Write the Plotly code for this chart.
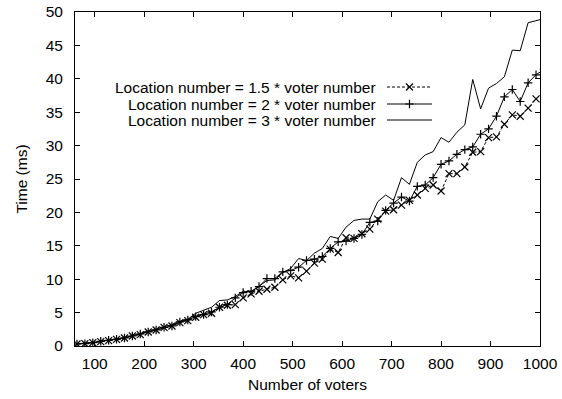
import plotly.graph_objects as go

# ---- data ----
voters = [64, 80, 96, 112, 128, 144, 160, 176, 192, 208, 224, 240, 256, 272, 288, 304,
          320, 336, 352, 368, 384, 400, 416, 432, 448, 464, 480, 496, 512, 528, 544, 560,
          576, 592, 608, 624, 640, 656, 672, 688, 704, 720, 736, 752, 768, 784, 800, 816,
          832, 848, 864, 880, 896, 912, 928, 944, 960, 976, 992, 1008]

time_15 = [0.3, 0.35, 0.5, 0.65, 0.8, 1.0, 1.2, 1.5, 1.7, 2.1, 2.4, 2.8, 3.0, 3.5, 3.8, 4.3,
           4.7, 4.9, 5.8, 6.1, 6.2, 7.2, 7.8, 8.2, 8.5, 8.8, 9.9, 10.5, 10.2, 11.2, 12.4, 13.0,
           14.5, 14.0, 16.2, 16.1, 16.8, 17.5, 19.0, 20.2, 20.4, 21.1, 21.8, 22.6, 23.6, 24.1,
           23.2, 25.8, 25.8, 26.8, 29.0, 29.1, 31.2, 31.3, 33.2, 34.6, 34.4, 35.6, 37.0, 37.9]

time_2 = [0.3, 0.35, 0.5, 0.7, 0.85, 1.0, 1.2, 1.5, 1.8, 2.1, 2.4, 2.8, 3.0, 3.6, 3.9, 4.4,
          4.7, 5.1, 5.8, 6.2, 7.2, 8.0, 8.2, 8.9, 10.1, 10.1, 11.1, 11.3, 11.8, 12.8, 13.0, 13.4,
          14.6, 15.6, 15.7, 16.1, 16.7, 18.5, 18.7, 20.3, 21.4, 22.3, 21.7, 23.9, 24.1, 25.2,
          27.2, 27.7, 28.7, 29.4, 29.8, 31.7, 32.5, 34.4, 37.3, 38.4, 36.6, 39.4, 40.6, 41.4]

time_3 = [0.35, 0.4, 0.5, 0.7, 0.85, 1.05, 1.25, 1.55, 1.85, 2.15, 2.5, 2.9, 3.2, 3.7, 4.0, 4.9,
          5.4, 5.8, 6.8, 6.9, 7.4, 8.2, 8.1, 9.0, 9.8, 9.9, 11.0, 11.6, 13.1, 12.8, 13.9, 14.6,
          16.4, 16.1, 17.8, 18.8, 19.0, 19.0, 21.6, 22.6, 21.8, 25.2, 24.2, 27.5, 28.6, 29.1,
          31.2, 30.5, 32.0, 33.1, 39.9, 35.5, 38.6, 39.3, 40.3, 44.3, 44.2, 48.4, 48.7, 49.0]

series_names = ["Location number = 1.5 * voter number",
                "Location number = 2 * voter number",
                "Location number = 3 * voter number"]

x_ticks = [100, 200, 300, 400, 500, 600, 700, 800, 900, 1000]
y_ticks = [0, 5, 10, 15, 20, 25, 30, 35, 40, 45, 50]

FONT = "Liberation Sans, Arial, sans-serif"
FS = 15.5
W, H = 562, 399
L, R, T, B = 75, 540, 12, 346

fig = go.Figure()

fig.add_trace(go.Scatter(x=voters, y=time_15, mode="lines+markers",
                         line=dict(color="black", width=1, dash="3px,2px"),
                         marker=dict(symbol="x-thin", size=7, line=dict(color="black", width=1.2)),
                         showlegend=False))
fig.add_trace(go.Scatter(x=voters, y=time_2, mode="lines+markers",
                         line=dict(color="black", width=1),
                         marker=dict(symbol="cross-thin", size=6, line=dict(color="black", width=1.2)),
                         showlegend=False))
fig.add_trace(go.Scatter(x=voters, y=time_3, mode="lines",
                         line=dict(color="black", width=1),
                         showlegend=False))

# ---- gnuplot-style key (samples drawn on a hidden pixel-scaled overlay axis) ----
key_text_right = 378
key_x0, key_x1 = 387, 432
key_rows = [87, 104, 120]
styles = [
    dict(line=dict(color="black", width=1, dash="3px,2px"), marker=dict(symbol="x-thin", size=7, line=dict(color="black", width=1.2))),
    dict(line=dict(color="black", width=1), marker=dict(symbol="cross-thin", size=6, line=dict(color="black", width=1.2))),
    dict(line=dict(color="black", width=1)),
]
for i, (name, yrow, st) in enumerate(zip(series_names, key_rows, styles)):
    fig.add_trace(go.Scatter(x=[key_x0, key_x1], y=[yrow, yrow], mode="lines",
                             line=st["line"], xaxis="x2", yaxis="y2", showlegend=False,
                             hoverinfo="skip"))
    if "marker" in st:
        fig.add_trace(go.Scatter(x=[(key_x0 + key_x1) / 2], y=[yrow], mode="markers",
                                 marker=st["marker"], xaxis="x2", yaxis="y2",
                                 showlegend=False, hoverinfo="skip"))
    fig.add_annotation(x=key_text_right, y=yrow, xref="x2", yref="y2", text=name,
                       showarrow=False, xanchor="right", yanchor="middle",
                       font=dict(family=FONT, size=FS, color="black"))

axis_common = dict(showgrid=False, zeroline=False, showline=True, linecolor="black",
                   linewidth=1, mirror="ticks", ticks="inside", ticklen=5, tickwidth=1,
                   tickcolor="black", automargin=False,
                   tickfont=dict(family=FONT, size=FS, color="black"))

fig.update_layout(
    width=W, height=H,
    margin=dict(l=L, r=W - R, t=T, b=H - B),
    paper_bgcolor="white", plot_bgcolor="white",
    xaxis=dict(range=[60, 1000], tickvals=x_ticks, ticktext=[str(v) for v in x_ticks],
               title=dict(text="Number of voters", font=dict(family=FONT, size=FS, color="black"), standoff=8),
               ticklabelstandoff=3,
               **axis_common),
    yaxis=dict(range=[0, 50], tickvals=y_ticks, ticktext=[str(v) for v in y_ticks],
               title=dict(text="Time (ms)", font=dict(family=FONT, size=FS, color="black"), standoff=14),
               ticklabelstandoff=8,
               **axis_common),
    xaxis2=dict(range=[L, R], overlaying="x", visible=False, anchor="y2", automargin=False),
    yaxis2=dict(range=[B, T], overlaying="y", visible=False, anchor="x2", automargin=False),
    showlegend=False,
)

fig.write_html("out.html")
